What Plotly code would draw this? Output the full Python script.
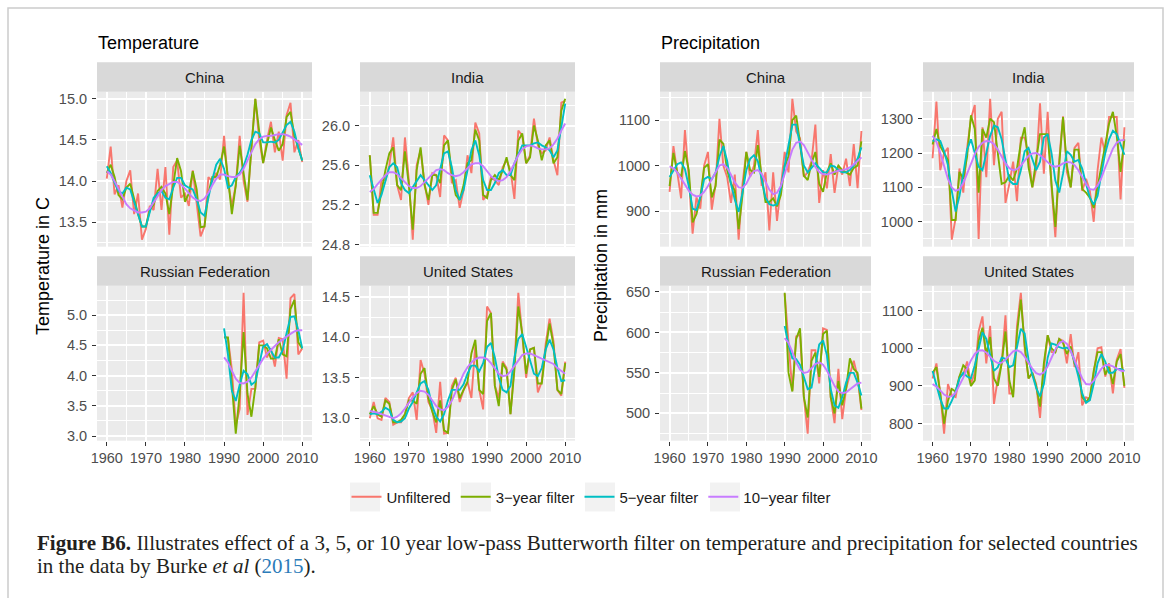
import plotly.graph_objects as go

years = list(range(1960, 2011))
years_ru = list(range(1990, 2011))

series_names = ["Unfiltered", "3\u2212year filter", "5\u2212year filter", "10\u2212year filter"]
series_colors = ["#F8766D", "#7CAE00", "#00BFC4", "#C77CFF"]

# ---------------- Temperature (deg C) ----------------
temp_china_raw = [14.03, 14.42, 13.84, 13.95, 13.68, 14.00, 14.13, 13.60, 13.85, 13.29,
                  13.42, 13.70, 13.65, 14.15, 13.65, 14.17, 13.35, 14.17, 14.25, 13.80,
                  13.85, 13.70, 14.13, 13.70, 13.33, 13.45, 14.05, 14.00, 14.10, 14.02,
                  14.55, 14.00, 13.70, 13.95, 14.55, 14.00, 13.75, 14.40, 15.00, 14.50,
                  14.22, 14.50, 14.72, 14.35, 14.60, 14.25, 14.80, 14.95, 14.35, 14.50, 14.23]
temp_china_f3 = [14.10, 14.20, 14.05, 13.83, 13.78, 13.92, 13.97, 13.78, 13.60, 13.45,
                 13.45, 13.65, 13.72, 13.88, 13.93, 13.85, 13.60, 13.95, 14.28, 14.12,
                 13.75, 13.85, 14.12, 13.90, 13.44, 13.45, 13.85, 14.05, 14.05, 14.20,
                 14.42, 14.05, 13.60, 13.95, 14.43, 14.10, 13.77, 14.40, 15.00, 14.60,
                 14.22, 14.45, 14.65, 14.50, 14.37, 14.45, 14.78, 14.84, 14.55, 14.40, 14.25]
temp_china_f5 = [14.18, 14.10, 13.98, 13.88, 13.85, 13.92, 13.90, 13.75, 13.58, 13.45,
                 13.45, 13.62, 13.80, 13.85, 13.88, 13.80, 13.78, 13.92, 14.04, 14.04,
                 13.95, 13.92, 13.90, 13.78, 13.62, 13.58, 13.82, 14.02, 14.20, 14.27,
                 14.15, 13.92, 13.95, 14.05, 14.10, 14.18, 14.32, 14.50, 14.60, 14.58,
                 14.47, 14.47, 14.48, 14.47, 14.50, 14.60, 14.68, 14.72, 14.60, 14.40, 14.25]
temp_china_f10 = [14.12, 14.08, 14.00, 13.90, 13.80, 13.72, 13.67, 13.64, 13.62, 13.62,
                  13.63, 13.67, 13.74, 13.82, 13.89, 13.94, 13.97, 13.99, 13.99, 13.96,
                  13.91, 13.85, 13.80, 13.77, 13.76, 13.79, 13.86, 13.95, 14.03, 14.08,
                  14.08, 14.06, 14.05, 14.05, 14.08, 14.15, 14.25, 14.36, 14.45, 14.51,
                  14.54, 14.55, 14.55, 14.56, 14.57, 14.57, 14.56, 14.54, 14.51, 14.47, 14.44]

temp_india_raw = [25.70, 25.10, 25.10, 25.45, 25.45, 25.60, 25.88, 25.40, 25.25, 25.88,
                  25.45, 24.85, 25.60, 25.75, 25.42, 25.20, 25.52, 25.50, 25.28, 25.90,
                  25.85, 25.42, 25.45, 25.17, 25.35, 25.70, 25.52, 26.03, 25.92, 25.25,
                  25.30, 25.48, 25.45, 25.40, 25.58, 25.65, 25.55, 25.26, 25.95, 25.90,
                  25.62, 25.70, 26.07, 25.80, 25.72, 25.75, 25.88, 25.65, 25.50, 26.23, 26.25]
temp_india_f3 = [25.70, 25.12, 25.12, 25.35, 25.55, 25.72, 25.78, 25.40, 25.35, 25.74,
                 25.40, 24.95, 25.55, 25.78, 25.40, 25.25, 25.50, 25.50, 25.42, 25.80,
                 25.85, 25.50, 25.30, 25.25, 25.40, 25.62, 25.65, 25.96, 25.85, 25.30,
                 25.27, 25.45, 25.50, 25.45, 25.55, 25.68, 25.50, 25.45, 25.85, 25.92,
                 25.62, 25.68, 26.00, 25.85, 25.65, 25.80, 25.85, 25.62, 25.68, 26.15, 26.27]
temp_india_f5 = [25.50, 25.35, 25.22, 25.30, 25.45, 25.58, 25.62, 25.58, 25.42, 25.35,
                 25.32, 25.38, 25.45, 25.50, 25.45, 25.40, 25.35, 25.40, 25.55, 25.72,
                 25.74, 25.58, 25.35, 25.25, 25.35, 25.55, 25.75, 25.85, 25.70, 25.45,
                 25.35, 25.35, 25.42, 25.52, 25.55, 25.50, 25.50, 25.62, 25.72, 25.80,
                 25.80, 25.80, 25.82, 25.83, 25.80, 25.78, 25.75, 25.68, 25.75, 26.00, 26.22]
temp_india_f10 = [25.33, 25.36, 25.41, 25.46, 25.50, 25.53, 25.53, 25.51, 25.47, 25.43,
                  25.39, 25.37, 25.37, 25.39, 25.43, 25.48, 25.52, 25.55, 25.56, 25.55,
                  25.52, 25.50, 25.49, 25.50, 25.53, 25.57, 25.61, 25.62, 25.62, 25.59,
                  25.54, 25.49, 25.46, 25.44, 25.45, 25.48, 25.54, 25.62, 25.70, 25.76,
                  25.79, 25.80, 25.79, 25.77, 25.76, 25.76, 25.77, 25.81, 25.87, 25.95, 26.02]

temp_russia_raw = [4.65, 4.62, 4.10, 3.18, 3.45, 5.37, 3.35, 3.78, 3.78, 4.55,
                   4.58, 4.30, 4.45, 4.15, 4.62, 4.60, 3.95, 5.28, 5.35, 4.35, 4.45]
temp_russia_f3 = [4.63, 4.63, 3.85, 3.04, 3.70, 4.72, 3.70, 3.32, 3.80, 4.50,
                  4.50, 4.45, 4.28, 4.28, 4.60, 4.35, 4.32, 5.10, 5.25, 4.55, 4.45]
temp_russia_f5 = [4.78, 4.35, 3.75, 3.58, 3.85, 4.08, 4.02, 3.85, 3.90, 4.20,
                  4.48, 4.52, 4.42, 4.30, 4.30, 4.42, 4.70, 4.97, 4.98, 4.75, 4.45]
temp_russia_f10 = [4.30, 4.22, 4.08, 3.95, 3.88, 3.87, 3.90, 3.97, 4.07, 4.18,
                   4.28, 4.36, 4.43, 4.49, 4.55, 4.60, 4.65, 4.69, 4.73, 4.75, 4.75]

temp_us_raw = [13.00, 13.20, 13.00, 12.98, 13.25, 13.20, 12.92, 12.95, 12.95, 13.05,
               13.25, 13.32, 12.98, 13.72, 13.55, 13.20, 13.10, 12.82, 13.45, 12.81,
               12.82, 13.40, 13.50, 13.20, 13.35, 13.45, 13.25, 13.90, 13.35, 13.11,
               14.38, 14.30, 13.40, 13.25, 13.70, 13.62, 13.05, 13.65, 14.55, 14.00,
               13.50, 13.85, 13.87, 13.32, 13.45, 13.92, 14.23, 13.95, 13.35, 13.28, 13.70]
temp_us_f3 = [13.05, 13.15, 13.05, 13.02, 13.22, 13.18, 12.95, 12.95, 12.98, 13.05,
              13.22, 13.22, 13.18, 13.55, 13.62, 13.25, 13.08, 12.95, 13.22, 12.85,
              12.82, 13.35, 13.48, 13.25, 13.35, 13.45, 13.80, 13.97, 13.35, 13.30,
              14.20, 14.30, 13.40, 13.15, 13.68, 13.60, 13.05, 13.60, 14.38, 14.05,
              13.55, 13.85, 13.87, 13.43, 13.43, 13.85, 14.17, 13.90, 13.35, 13.30, 13.68]
temp_us_f5 = [13.05, 13.06, 13.05, 13.08, 13.13, 13.10, 12.98, 12.95, 12.96, 13.00,
              13.12, 13.20, 13.32, 13.43, 13.46, 13.35, 13.15, 13.02, 12.96, 13.05,
              13.22, 13.35, 13.35, 13.35, 13.42, 13.55, 13.65, 13.65, 13.58, 13.68,
              13.88, 13.93, 13.75, 13.50, 13.35, 13.32, 13.40, 13.75, 13.98, 14.04,
              13.88, 13.70, 13.55, 13.52, 13.62, 13.85, 13.97, 13.85, 13.62, 13.46, 13.47]
temp_us_f10 = [13.09, 13.08, 13.07, 13.05, 13.03, 13.01, 13.00, 13.02, 13.06, 13.12,
               13.19, 13.26, 13.31, 13.34, 13.33, 13.29, 13.22, 13.15, 13.11, 13.10,
               13.14, 13.22, 13.33, 13.44, 13.55, 13.63, 13.69, 13.73, 13.75, 13.75,
               13.73, 13.68, 13.61, 13.55, 13.52, 13.53, 13.58, 13.65, 13.72, 13.78,
               13.80, 13.80, 13.78, 13.76, 13.74, 13.72, 13.70, 13.67, 13.62, 13.58, 13.55]

# ---------------- Precipitation (mm) ----------------
prec_china_raw = [942, 1043, 985, 928, 1078, 975, 850, 930, 905, 1000,
                  1030, 903, 960, 1103, 1000, 975, 918, 980, 837, 960,
                  1030, 975, 1000, 1078, 955, 985, 857, 985, 878, 950,
                  1030, 985, 1147, 1075, 1060, 975, 985, 1010, 1090, 918,
                  990, 950, 1025, 940, 1000, 980, 1015, 955, 1047, 950, 1076]
prec_china_f3 = [955, 1028, 985, 975, 1032, 990, 875, 893, 930, 995,
                 1003, 930, 955, 1057, 1048, 990, 960, 945, 860, 935,
                 1030, 990, 985, 1045, 975, 920, 920, 928, 910, 935,
                 1000, 1020, 1100, 1110, 1050, 978, 968, 1005, 1030, 960,
                 942, 985, 1005, 980, 1000, 990, 985, 980, 995, 1000, 1053]
prec_china_f5 = [975, 990, 1003, 1007, 992, 955, 905, 902, 930, 970,
                 975, 970, 985, 1020, 1043, 1010, 960, 925, 898, 940,
                 990, 1015, 1023, 1010, 970, 930, 915, 912, 915, 950,
                 1000, 1050, 1090, 1090, 1040, 1000, 985, 995, 1005, 995,
                 985, 985, 1000, 998, 990, 985, 985, 990, 1000, 1015, 1040]
prec_china_f10 = [998, 994, 985, 972, 958, 945, 936, 932, 934, 942,
                  955, 970, 987, 1000, 1003, 995, 980, 963, 952, 951,
                  960, 977, 988, 990, 982, 965, 947, 937, 940, 955,
                  980, 1008, 1035, 1050, 1053, 1045, 1030, 1012, 997, 986,
                  981, 980, 983, 987, 989, 990, 992, 996, 1002, 1010, 1018]

prec_india_raw = [1185, 1350, 1150, 1200, 1215, 948, 1010, 1155, 1085, 1215,
                  1300, 1340, 950, 1275, 1130, 1358, 1165, 1300, 1320, 1055,
                  1110, 1175, 1060, 1245, 1245, 1195, 1100, 1155, 1345, 1140,
                  1320, 1100, 955, 1180, 1307, 1145, 1100, 1215, 1230, 1090,
                  1125, 1090, 1000, 1150, 1245, 1200, 1305, 1305, 1305, 1065, 1275]
prec_india_f3 = [1225, 1270, 1220, 1200, 1180, 1005, 1005, 1145, 1125, 1190,
                 1310, 1270, 1085, 1270, 1245, 1300, 1290, 1200, 1110, 1115,
                 1135, 1120, 1155, 1230, 1275, 1160, 1100, 1180, 1255, 1255,
                 1255, 1110, 985, 1165, 1305, 1165, 1100, 1210, 1210, 1095,
                 1085, 1070, 1040, 1100, 1165, 1220, 1285, 1320, 1250, 1145, 1240]
prec_india_f5 = [1235, 1240, 1235, 1205, 1165, 1090, 1030, 1075, 1140, 1210,
                 1240, 1200, 1160, 1150, 1200, 1250, 1280, 1275, 1240, 1180,
                 1120, 1110, 1110, 1150, 1205, 1215, 1185, 1150, 1175, 1245,
                 1255, 1200, 1120, 1085, 1140, 1205, 1195, 1175, 1180, 1155,
                 1110, 1070, 1050, 1075, 1140, 1200, 1240, 1265, 1255, 1225, 1195]
prec_india_f10 = [1250, 1232, 1200, 1162, 1125, 1100, 1090, 1095, 1113, 1140,
                  1170, 1197, 1218, 1230, 1235, 1234, 1226, 1210, 1190, 1170,
                  1156, 1150, 1153, 1163, 1178, 1192, 1199, 1200, 1194, 1183,
                  1171, 1163, 1160, 1163, 1170, 1174, 1173, 1165, 1150, 1130,
                  1110, 1095, 1093, 1105, 1128, 1158, 1188, 1213, 1230, 1237, 1238]

prec_russia_raw = [648, 590, 528, 595, 597, 520, 475, 578, 578, 537,
                   605, 603, 520, 488, 555, 493, 530, 548, 565, 545, 504]
prec_russia_f3 = [649, 550, 527, 592, 605, 520, 495, 565, 575, 545,
                  598, 602, 520, 500, 540, 510, 530, 568, 555, 550, 506]
prec_russia_f5 = [608, 585, 568, 567, 560, 545, 530, 532, 560, 585,
                  590, 572, 530, 510, 507, 520, 538, 550, 550, 538, 522]
prec_russia_f10 = [593, 587, 576, 563, 554, 550, 551, 556, 561, 563,
                   560, 553, 543, 534, 527, 525, 526, 530, 534, 537, 538]

prec_us_raw = [920, 960, 880, 773, 905, 875, 870, 925, 930, 965,
               905, 935, 1045, 1085, 960, 1060, 852, 920, 960, 1088,
               880, 880, 1060, 1148, 1000, 920, 935, 905, 815, 945,
               1035, 990, 990, 1025, 1020, 960, 1038, 950, 990, 848,
               870, 865, 935, 1000, 1003, 925, 960, 880, 970, 998, 895]
prec_us_f3 = [935, 950, 880, 800, 860, 892, 885, 925, 955, 945,
              900, 915, 1020, 1055, 985, 1030, 920, 900, 960, 1045,
              915, 870, 1040, 1130, 1010, 920, 935, 900, 845, 960,
              1035, 1000, 990, 1025, 1015, 985, 1005, 960, 945, 870,
              857, 870, 940, 990, 990, 930, 950, 905, 965, 985, 900]
prec_us_f5 = [940, 905, 865, 840, 840, 860, 885, 920, 935, 925,
              920, 955, 1000, 1043, 1025, 980, 940, 950, 975, 972,
              950, 955, 1005, 1052, 1040, 970, 930, 895, 872, 905,
              975, 1013, 1010, 1003, 1000, 1002, 995, 965, 925, 880,
              855, 862, 905, 960, 985, 965, 935, 935, 945, 945, 940]
prec_us_f10 = [905, 898, 888, 877, 871, 872, 882, 900, 922, 946,
               968, 985, 994, 995, 989, 978, 967, 961, 962, 970,
               982, 992, 995, 990, 978, 962, 946, 934, 930, 936,
               952, 975, 997, 1014, 1020, 1012, 993, 968, 942, 920,
               905, 904, 914, 930, 946, 955, 956, 952, 946, 941, 939]

# ---------------- Layout helpers ----------------
W, H = 1171, 598
def fx(p):
    return p / W
def fy(p):
    return 1 - p / H

FONT = "Liberation Sans, Arial, sans-serif"

panels = [
    dict(title="China", x=years, data=[temp_china_raw, temp_china_f3, temp_china_f5, temp_china_f10],
         box=(97, 312, 91.7, 246.7), dtick=0.5, fmt=".1f", bottom=False),
    dict(title="India", x=years, data=[temp_india_raw, temp_india_f3, temp_india_f5, temp_india_f10],
         box=(360, 575, 91.7, 246.7), dtick=0.4, fmt=".1f", bottom=False),
    dict(title="Russian Federation", x=years_ru, data=[temp_russia_raw, temp_russia_f3, temp_russia_f5, temp_russia_f10],
         box=(97, 312, 285.7, 440.7), dtick=0.5, fmt=".1f", bottom=True),
    dict(title="United States", x=years, data=[temp_us_raw, temp_us_f3, temp_us_f5, temp_us_f10],
         box=(360, 575, 285.7, 440.7), dtick=0.5, fmt=".1f", bottom=True),
    dict(title="China", x=years, data=[prec_china_raw, prec_china_f3, prec_china_f5, prec_china_f10],
         box=(660, 871, 91.7, 246.7), dtick=100, fmt="d", bottom=False),
    dict(title="India", x=years, data=[prec_india_raw, prec_india_f3, prec_india_f5, prec_india_f10],
         box=(923, 1134, 91.7, 246.7), dtick=100, fmt="d", bottom=False),
    dict(title="Russian Federation", x=years_ru, data=[prec_russia_raw, prec_russia_f3, prec_russia_f5, prec_russia_f10],
         box=(660, 871, 285.7, 440.7), dtick=50, fmt="d", bottom=True),
    dict(title="United States", x=years, data=[prec_us_raw, prec_us_f3, prec_us_f5, prec_us_f10],
         box=(923, 1134, 285.7, 440.7), dtick=100, fmt="d", bottom=True),
]

fig = go.Figure()
shapes = []
annotations = []
layout_axes = {}

for i, p in enumerate(panels, start=1):
    xname = "x" if i == 1 else f"x{i}"
    yname = "y" if i == 1 else f"y{i}"
    for s, (vals, nm, col) in enumerate(zip(p["data"], series_names, series_colors)):
        fig.add_trace(go.Scatter(
            x=p["x"], y=vals, mode="lines", name=nm, legendgroup=nm,
            showlegend=(i == 1), line=dict(color=col, width=1.9),
            xaxis=xname, yaxis=yname, hoverinfo="skip"))
    allv = [v for ser in p["data"] for v in ser]
    lo, hi = min(allv), max(allv)
    pad = 0.05 * (hi - lo)
    x0, x1, y0, y1 = p["box"]
    xa = dict(domain=[fx(x0), fx(x1)], anchor=yname, range=[1957.5, 2012.5], automargin=False,
              tickvals=[1960, 1970, 1980, 1990, 2000, 2010],
              showgrid=True, gridcolor="white", gridwidth=1.6, zeroline=False, showline=False,
              minor=dict(tickvals=[1965, 1975, 1985, 1995, 2005], showgrid=True, gridcolor="white", gridwidth=0.8),
              tickfont=dict(family=FONT, size=14.5, color="#4D4D4D"), fixedrange=True)
    if p["bottom"]:
        xa.update(ticks="outside", ticklen=4, tickwidth=1.1, tickcolor="#333333", showticklabels=True)
    else:
        xa.update(ticks="", showticklabels=False)
    ya = dict(domain=[fy(y1), fy(y0)], anchor=xname, range=[lo - pad, hi + pad], automargin=False,
              tick0=0, dtick=p["dtick"], tickformat=p["fmt"],
              showgrid=True, gridcolor="white", gridwidth=1.6, zeroline=False, showline=False,
              minor=dict(tick0=0, dtick=p["dtick"] / 2, showgrid=True, gridcolor="white", gridwidth=0.8),
              ticks="outside", ticklen=4, tickwidth=1.1, tickcolor="#333333",
              ticklabelstandoff=2,
              tickfont=dict(family=FONT, size=14.5, color="#4D4D4D"), fixedrange=True)
    layout_axes["xaxis" if i == 1 else f"xaxis{i}"] = xa
    layout_axes["yaxis" if i == 1 else f"yaxis{i}"] = ya
    # facet strip
    shapes.append(dict(type="rect", xref="paper", yref="paper", x0=fx(x0), x1=fx(x1),
                       y0=fy(y0), y1=fy(y0 - 29.4), fillcolor="#D9D9D9", line=dict(width=0), layer="below"))
    annotations.append(dict(text=p["title"], xref="paper", yref="paper", x=fx((x0 + x1) / 2), y=fy(y0 - 14.7),
                            xanchor="center", yanchor="middle", showarrow=False,
                            font=dict(family=FONT, size=15, color="#1A1A1A")))

# legend key backgrounds (ggplot-style grey key boxes)
for cx in [365, 476, 600, 725]:
    shapes.append(dict(type="rect", xref="paper", yref="paper", x0=fx(cx - 15), x1=fx(cx + 15),
                       y0=fy(497 + 14.5), y1=fy(497 - 14.5), fillcolor="#F2F2F2", line=dict(width=0),
                       layer="below"))

# group titles
annotations.append(dict(text="Temperature", xref="paper", yref="paper", x=fx(96), y=fy(43),
                        xanchor="left", yanchor="middle", showarrow=False,
                        font=dict(family=FONT, size=18, color="black")))
annotations.append(dict(text="Precipitation", xref="paper", yref="paper", x=fx(659), y=fy(43),
                        xanchor="left", yanchor="middle", showarrow=False,
                        font=dict(family=FONT, size=18, color="black")))
# y axis titles
annotations.append(dict(text="Temperature in C", xref="paper", yref="paper", x=fx(43), y=fy(266),
                        xanchor="center", yanchor="middle", textangle=-90, showarrow=False,
                        font=dict(family=FONT, size=18, color="black")))
annotations.append(dict(text="Precipitation in mm", xref="paper", yref="paper", x=fx(601), y=fy(266),
                        xanchor="center", yanchor="middle", textangle=-90, showarrow=False,
                        font=dict(family=FONT, size=18, color="black")))
# caption
CAP = "Liberation Serif, Times New Roman, serif"
annotations.append(dict(text="<b>Figure B6.</b> Illustrates effect of a 3, 5, or 10 year low-pass Butterworth filter on temperature and precipitation for selected countries",
                        xref="paper", yref="paper", x=fx(35), y=fy(543), xanchor="left", yanchor="middle",
                        showarrow=False, font=dict(family=CAP, size=21, color="#231F20")))
annotations.append(dict(text="in the data by Burke <i>et al</i> (<span style='color:#2B7BB9'>2015</span>).",
                        xref="paper", yref="paper", x=fx(35), y=fy(566), xanchor="left", yanchor="middle",
                        showarrow=False, font=dict(family=CAP, size=21, color="#231F20")))
# outer frame
shapes.append(dict(type="rect", xref="paper", yref="paper", x0=fx(8), x1=fx(1163), y0=fy(612), y1=fy(8),
                   line=dict(color="#CCCCCC", width=1.5), fillcolor="rgba(0,0,0,0)", layer="above"))

fig.update_layout(
    width=W, height=H, autosize=False,
    margin=dict(l=0, r=0, t=0, b=0, pad=0, autoexpand=False),
    paper_bgcolor="white", plot_bgcolor="#EBEBEB",
    shapes=shapes, annotations=annotations,
    legend=dict(orientation="h", x=fx(591), xanchor="center", y=fy(497), yanchor="middle",
                font=dict(family=FONT, size=15, color="#1A1A1A"), bgcolor="rgba(0,0,0,0)",
                itemwidth=30, tracegroupgap=0),
    showlegend=True,
    **layout_axes,
)

POST = ("var d=document.getElementById('{plot_id}');"
        "document.body.style.margin='0';document.body.style.overflow='hidden';"
        "d.style.position='fixed';d.style.left='0px';d.style.top='0px';")

fig.write_html("out.html", config={"displayModeBar": False}, post_script=POST)
